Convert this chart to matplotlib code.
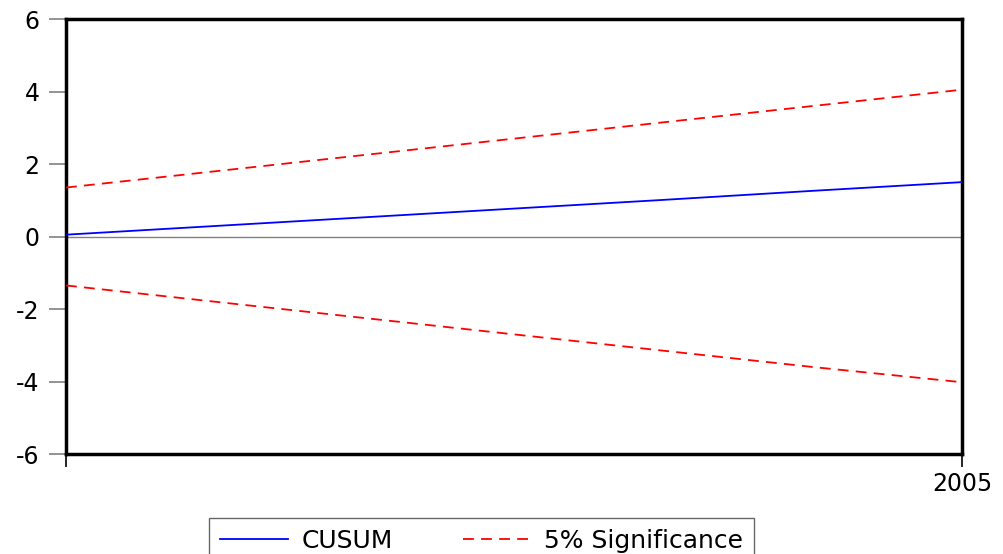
import matplotlib
matplotlib.use("Agg")
import matplotlib.pyplot as plt

# CUSUM test, years up to 2005
years = [1999, 2000, 2001, 2002, 2003, 2004, 2005]
cusum = [0.05, 0.29, 0.53, 0.77, 1.01, 1.26, 1.50]
upper = [1.35, 1.80, 2.25, 2.70, 3.15, 3.60, 4.05]
lower = [-1.35, -1.80, -2.25, -2.70, -3.15, -3.60, -4.02]
yticks = [-6, -4, -2, 0, 2, 4, 6]

plt.rcParams['font.family'] = ['DejaVu Sans']

fig = plt.figure(figsize=(10.04, 5.54), dpi=100)
ax = fig.add_axes([0.0657, 0.1805, 0.8925, 0.7852])

ax.axhline(0, color="#808080", lw=1.0, zorder=1)
ax.plot(years, cusum, color="blue", lw=1.3, label="CUSUM", zorder=3)
ax.plot(years, upper, color="red", lw=1.3, dashes=(6, 4), label="5% Significance", zorder=3)
ax.plot(years, lower, color="red", lw=1.3, dashes=(6, 4), zorder=3)

ax.set_xlim(years[0], years[-1])
ax.set_ylim(-6, 6)
ax.set_yticks(yticks)
ax.set_yticklabels([str(v) for v in yticks], fontsize=17)
ax.set_xticks([years[0], years[-1]])
ax.set_xticklabels(["", "2005"], fontsize=17)

for s in ax.spines.values():
    s.set_linewidth(2.5)
    s.set_color("black")

ax.tick_params(axis="y", direction="out", length=12, width=1.2, color="#808080", pad=7)
ax.tick_params(axis="x", direction="out", length=9, width=1.2, color="black", pad=4)

leg = fig.legend(loc="upper left", bbox_to_anchor=(0.208, 0.065), ncol=2,
                 fontsize=18, frameon=True, fancybox=False, handlelength=2.7,
                 handletextpad=0.55, columnspacing=2.8, borderpad=0.45,
                 borderaxespad=0)
leg.get_frame().set_edgecolor("#404040")
leg.get_frame().set_linewidth(1.0)

fig.savefig("out.png", dpi=100)
